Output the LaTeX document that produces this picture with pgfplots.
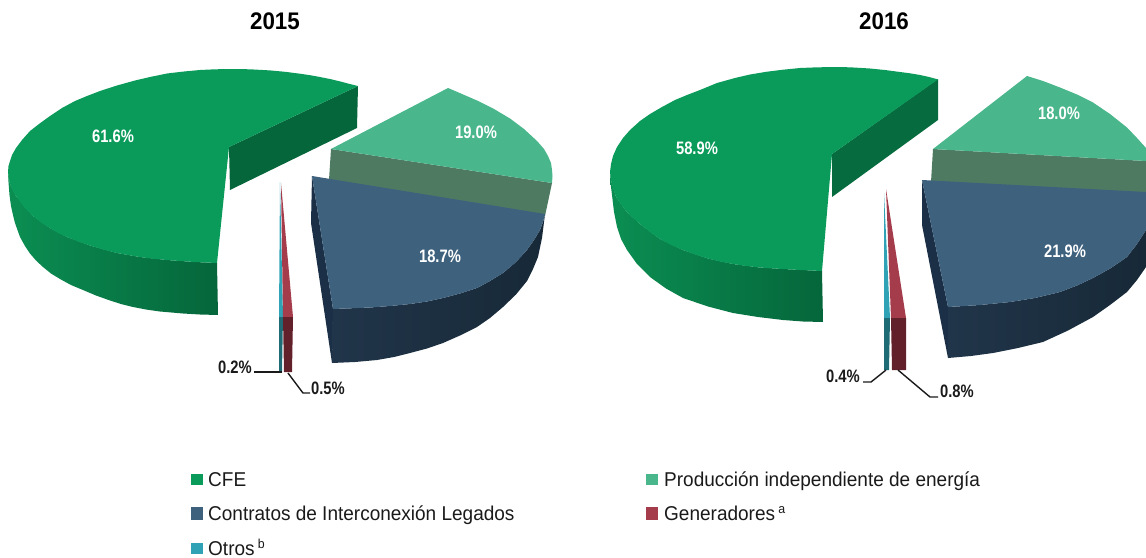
\documentclass[border=0pt]{standalone}
\usepackage{pgfplots}
\pgfplotsset{compat=1.18}
\usepackage{fontspec}
\setmainfont{Liberation Sans}
\definecolor{cfe}{HTML}{0A9B5B}
\definecolor{cfeA}{HTML}{0B8E52}
\definecolor{cfeB}{HTML}{05663B}
\definecolor{pie}{HTML}{49B68C}
\definecolor{piew}{HTML}{4F7A62}
\definecolor{leg}{HTML}{3E617E}
\definecolor{legA}{HTML}{21354A}
\definecolor{legB}{HTML}{172937}
\definecolor{legS}{HTML}{1B3047}
\definecolor{gen}{HTML}{A43C4C}
\definecolor{genw}{HTML}{62202A}
\definecolor{otr}{HTML}{2FA3B5}
\definecolor{otrw}{HTML}{1E6A75}
\definecolor{txt}{HTML}{1A1A1A}
\newcommand{\lab}[1]{\scalebox{.82}[1]{\bfseries\fontsize{18}{18}\selectfont #1}}
\newcommand{\ttl}[1]{\scalebox{.93}[1]{\bfseries\fontsize{24}{24}\selectfont #1}}
\newcommand{\lgd}[1]{\scalebox{.95}[1]{\fontsize{20}{20}\selectfont #1}}
\begin{document}
\begin{tikzpicture}
\useasboundingbox (0,0) rectangle (1146pt,557pt);
\begin{axis}[width=1146pt,height=557pt,scale only axis,xmin=0,xmax=1146,ymin=0,ymax=557,y dir=reverse,hide axis,clip=true,anchor=south west,at={(0,0)}]
% ---------- 2015 CFE
\addplot[draw=none,left color=cfeA,right color=cfeB] coordinates {(8,172)(8.5,182)(9.5,195)(11,206)(13,215)(15,223)(20,237)(25,246)(30,253.5)(36,260.5)(43,267)(51,273.5)(60,279)(71,285)(83,290)(96,295.5)(110,300.5)(121,304)(133,307)(146,309.5)(160,311.5)(183,313.5)(200,314.5)(218,315)(217,263)(195,262)(167,260)(140,257)(117,253)(90,245.5)(67,237)(50,228)(33,216)(16,196)(10,184)} --cycle;
\addplot[draw=none,fill=cfeB] coordinates {(229,147)(358,86)(357,128)(230,190)} --cycle;
\addplot[draw=none,fill=cfe] coordinates {(358,86)(349,83.8)(340,81.4)(330,79)(320,77)(310,75.2)(300,73.7)(285,71.8)(270,70.4)(250,69.3)(233,69)(215,69.3)(200,70)(183,71.6)(167,73.5)(150,77)(135,80.5)(117,85.5)(100,91)(87,96)(75,101)(62,108)(50,116)(39,124)(30,131)(22,140)(16,148)(12,155)(10,161)(8.5,166)(8,172)(9,179)(10,184)(13,191)(16,196)(24,207)(33,216)(41,222.5)(50,228)(58,233)(67,237)(78,241.5)(90,245.5)(103,249.5)(117,253)(128,255)(140,257)(153,258.8)(167,260)(180,261)(195,262)(217,263)(229,147)} --cycle;
% 2015 PIE
\addplot[draw=none,fill=piew] coordinates {(331,149)(552,183)(545,216)(329,180)} --cycle;
\addplot[draw=none,fill=pie] coordinates {(331,149)(448,88)(462,94)(477,100.5)(494,109)(510,118.5)(524,129)(537,141)(544,149)(548,156)(551,163)(552,170)(552.5,176)(552,183)} --cycle;
% 2015 Legados
\addplot[draw=none,fill=legS] coordinates {(312,176)(311,223)(332,363)(333,309)} --cycle;
\addplot[draw=none,left color=legA,right color=legB] coordinates {(333,309)(332,363)(355,362)(377,360)(394,357)(410,353)(427,348.5)(443,343)(460,335.5)(477,327)(490,318)(503,307)(516,294.5)(527,281)(533,269)(538,257)(542,238)(545,214)(543,222)(540,230)(534,240)(527,250)(516,262)(503,273)(490,281)(477,288)(460,293.5)(443,298)(427,301.5)(410,304)(390,306)(370,307.5)} --cycle;
\addplot[draw=none,fill=leg] coordinates {(312,176)(545,214)(543,222)(540,230)(534,240)(527,250)(516,262)(503,273)(490,281)(477,288)(460,293.5)(443,298)(427,301.5)(410,304)(390,306)(370,307.5)(333,309)} --cycle;
% 2015 small
\addplot[draw=none,fill=otr] coordinates {(280,182)(279,317)(283,317)} --cycle;
\addplot[draw=none,fill=otrw] coordinates {(279,317)(283,317)(282,372)(279,372)} --cycle;
\addplot[draw=none,fill=gen] coordinates {(281,183)(283,317)(293,317)} --cycle;
\addplot[draw=none,fill=genw] coordinates {(283,317)(293,317)(292,372)(284,372)} --cycle;
\addplot[txt,line width=1.4pt] coordinates {(254,372)(282,372)};
\addplot[txt,line width=1.4pt] coordinates {(288,373)(303,393)(310,393)};
% ---------- 2016 CFE
\addplot[draw=none,left color=cfeA,right color=cfeB] coordinates {(610,172)(610.5,183)(612,195)(614,212)(617,227)(621,239)(627,250)(637,264)(650,277)(666,288.5)(683,298)(708,306.5)(733,313)(758,317)(783,320)(803,321.5)(823,322)(822,271)(783,269)(758,267.3)(733,264)(708,258.5)(683,250)(660,239)(640,224)(626,211)(616,197)(611,180)} --cycle;
\addplot[draw=none,fill=cfeB!90!cfe] coordinates {(832,154)(938,79)(938,120)(832,197)} --cycle;
\addplot[draw=none,fill=cfe] coordinates {(938,79.4)(929,77)(920,75)(910,73.3)(900,72)(885,70)(870,68.5)(850,67.3)(833,67)(815,67.4)(800,68)(783,69.7)(767,71.7)(750,74.5)(735,78)(717,83)(700,90)(687,95)(675,100)(662,107)(650,114)(640,121)(630,130)(623,138)(617,147)(613,156)(611,164)(610,172)(611,180)(613,188)(616,197)(621,204.5)(626,211)(633,218)(640,224)(650,232)(660,239)(671,245)(683,250)(695,254.5)(708,258.5)(720,261.5)(733,264)(745,265.8)(758,267.3)(770,268.3)(783,269)(800,270)(822,271)(832,154)} --cycle;
% 2016 PIE
\addplot[draw=none,fill=piew] coordinates {(933,149)(1146,161)(1146,194)(931,182)} --cycle;
\addplot[draw=none,fill=pie] coordinates {(933,149)(1027,76)(1043,81)(1060,87.5)(1077,94.5)(1093,102.5)(1110,114)(1127,127.5)(1137,138)(1146,148)(1146,161)} --cycle;
% 2016 Legados
\addplot[draw=none,fill=legS] coordinates {(922,180)(922,225)(948,358)(948,307)} --cycle;
\addplot[draw=none,left color=legA,right color=legB] coordinates {(948,307)(948,358)(971,356)(993,353)(1018,348)(1043,342)(1068,330.5)(1093,317)(1110,305)(1127,292)(1137,280)(1146,267)(1146,230)(1137,244)(1127,257)(1111,268)(1093,278)(1077,285.5)(1060,292)(1035,298)(1010,302)(980,305)} --cycle;
\addplot[draw=none,fill=leg] coordinates {(922,180)(1146,192)(1146,230)(1137,244)(1127,257)(1111,268)(1093,278)(1077,285.5)(1060,292)(1035,298)(1010,302)(980,305)(948,307)} --cycle;
% 2016 small
\addplot[draw=none,fill=otr] coordinates {(884,193)(884,318)(890,318)} --cycle;
\addplot[draw=none,fill=otrw] coordinates {(884,318)(890,318)(889,370)(884,370)} --cycle;
\addplot[draw=none,fill=gen] coordinates {(886,189)(891,318)(906,318)} --cycle;
\addplot[draw=none,fill=genw] coordinates {(891,318)(906,318)(906,370)(892,370)} --cycle;
\addplot[txt,line width=1.4pt] coordinates {(863,382)(871,382)(886,370)};
\addplot[txt,line width=1.4pt] coordinates {(898,370)(930,397)(938,397)};
% ---------- legend patches
\addplot[draw=none,fill=cfe] coordinates {(191,474)(203,474)(203,485)(191,485)} --cycle;
\addplot[draw=none,fill=leg] coordinates {(191,507)(203,507)(203,520)(191,520)} --cycle;
\addplot[draw=none,fill=otr] coordinates {(191,543)(203,543)(203,554)(191,554)} --cycle;
\addplot[draw=none,fill=pie] coordinates {(646,474)(658,474)(658,485)(646,485)} --cycle;
\addplot[draw=none,fill=gen] coordinates {(646,507)(658,507)(658,520)(646,520)} --cycle;
% ---------- text
\node[text=black] at (axis cs:275,21) {\ttl{2015}};
\node[text=black] at (axis cs:884,21) {\ttl{2016}};
\node[text=white] at (axis cs:113,136) {\lab{61.6\%}};
\node[text=white] at (axis cs:476,132) {\lab{19.0\%}};
\node[text=white] at (axis cs:440,256) {\lab{18.7\%}};
\node[text=txt] at (axis cs:235,367) {\lab{0.2\%}};
\node[text=txt] at (axis cs:328,388) {\lab{0.5\%}};
\node[text=white] at (axis cs:697,148) {\lab{58.9\%}};
\node[text=white] at (axis cs:1059,113) {\lab{18.0\%}};
\node[text=white] at (axis cs:1065,251) {\lab{21.9\%}};
\node[text=txt] at (axis cs:843,376) {\lab{0.4\%}};
\node[text=txt] at (axis cs:957,391) {\lab{0.8\%}};
\node[text=txt,anchor=base west,inner sep=0pt] at (axis cs:208,486) {\lgd{CFE}};
\node[text=txt,anchor=base west,inner sep=0pt] at (axis cs:208,520.5) {\lgd{Contratos de Interconexión Legados}};
\node[text=txt,anchor=base west,inner sep=0pt] at (axis cs:208,555) {\lgd{Otros\,\raisebox{7pt}{\fontsize{13}{13}\selectfont b}}};
\node[text=txt,anchor=base west,inner sep=0pt] at (axis cs:664,486) {\lgd{Producción independiente de energía}};
\node[text=txt,anchor=base west,inner sep=0pt] at (axis cs:664,520.5) {\lgd{Generadores\,\raisebox{7pt}{\fontsize{13}{13}\selectfont a}}};
\end{axis}
\end{tikzpicture}
\end{document}
